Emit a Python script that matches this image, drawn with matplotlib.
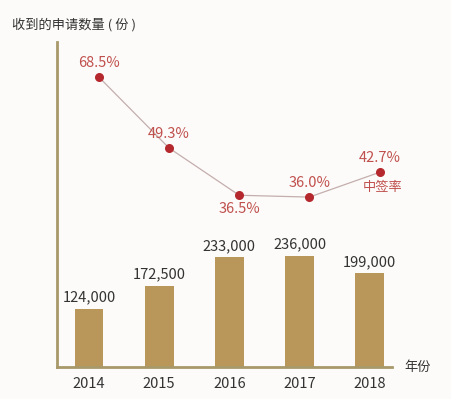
import matplotlib
matplotlib.use("Agg")
import matplotlib.pyplot as plt
import numpy as np

plt.rcParams["font.family"] = ["Noto Sans CJK SC", "DejaVu Sans"]

years = ["2014", "2015", "2016", "2017", "2018"]
applications = [124000, 172500, 233000, 236000, 199000]
win_rate = [68.5, 49.3, 36.5, 36.0, 42.7]
rate_label_above = [True, True, False, True, True]

bar_color = "#B9975B"
axis_color = "#A8996A"
dot_color = "#B5282D"
rate_text_color = "#C0504D"
text_color = "#333333"

fig = plt.figure(figsize=(4.52, 3.99), dpi=100)
fig.patch.set_facecolor("#FCFBF9")
ax = fig.add_axes([0.126, 0.080, 0.741, 0.815])
ax.set_facecolor("none")

x = np.arange(len(years))
ax.bar(x, applications, width=0.41, color=bar_color, zorder=2)
for xi, v in zip(x, applications):
    ax.annotate(f"{v:,}", (xi, v), xytext=(0, 3), textcoords="offset points",
                ha="center", va="bottom", fontsize=10.5, color=text_color)

ax.set_xlim(-0.456, 4.316)
ax.set_ylim(0, 690000)
ax.set_xticks(x)
ax.set_xticklabels(years, fontsize=10.5, color=text_color)
ax.tick_params(axis="x", length=0, pad=7)
ax.set_yticks([])
for side in ("top", "right"):
    ax.spines[side].set_visible(False)
for side in ("left", "bottom"):
    ax.spines[side].set_color(axis_color)
    ax.spines[side].set_linewidth(2)

# rate line on a second axis, shifted a little right of the bars
ax2 = ax.twinx()
ax2.set_ylim(-10, 78)
ax2.axis("off")
xr = x + 0.14
ax2.plot(xr, win_rate, color="#C4AEAE", linewidth=0.9, zorder=3)
ax2.scatter(xr, win_rate, s=30, color=dot_color, zorder=4)
for xi, v, above in zip(xr, win_rate, rate_label_above):
    dy = 5 if above else -5
    ax2.annotate(f"{v:.1f}%", (xi, v), xytext=(0, dy), textcoords="offset points",
                 ha="center", va="bottom" if above else "top",
                 fontsize=10.5, color=rate_text_color)
ax2.annotate("中签率", (xr[-1], win_rate[-1]), xytext=(2, -6), textcoords="offset points",
             ha="center", va="top", fontsize=9.5, color=rate_text_color)

fig.text(0.027, 0.937, "收到的申请数量 ( 份 )", fontsize=9.5, color=text_color, va="center")
fig.text(0.895, 0.080, "年份", fontsize=9.5, color=text_color, va="center")

fig.savefig("out.png", dpi=100, facecolor=fig.get_facecolor())
